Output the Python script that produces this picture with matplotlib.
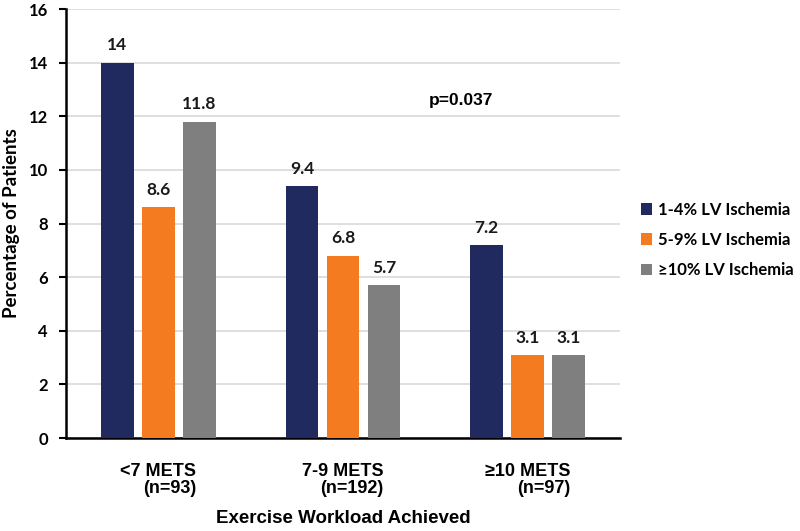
import matplotlib
matplotlib.use("Agg")
import matplotlib.pyplot as plt
import numpy as np

categories = ["<7 METS\n(n=93)", "7-9 METS\n(n=192)", "≥10 METS\n(n=97)"]
series_names = ["1-4% LV Ischemia", "5-9% LV Ischemia", "≥10% LV Ischemia"]
ischemia_1_4 = [14, 9.4, 7.2]
ischemia_5_9 = [8.6, 6.8, 3.1]
ischemia_10 = [11.8, 5.7, 3.1]
value_labels = [["14", "9.4", "7.2"], ["8.6", "6.8", "3.1"], ["11.8", "5.7", "3.1"]]
colors = ["#212A5E", "#F47B20", "#7F7F7F"]
yticks = [0, 2, 4, 6, 8, 10, 12, 14, 16]

fig = plt.figure(figsize=(8, 5.31), dpi=100)
ax = fig.add_axes([0.0825, 0.175, 0.6925, 0.808])

x = np.arange(len(categories))
width = 0.178
step = 0.222
series = [ischemia_1_4, ischemia_5_9, ischemia_10]
calib = ["Lato", "DejaVu Sans"]
for i, (vals, col, name) in enumerate(zip(series, colors, series_names)):
    pos = x + (i - 1) * step
    ax.bar(pos, vals, width, color=col, label=name, zorder=3)
    for p, v, lab in zip(pos, vals, value_labels[i]):
        ax.text(p, v + 0.35, lab, ha="center", va="bottom", fontsize=12.5,
                fontweight="bold", family=calib, color="#1a1a1a")

ax.set_xlim(-0.5, 2.5)
ax.set_ylim(0, 16)
ax.set_yticks(yticks)
ax.set_yticklabels([str(t) for t in yticks], fontsize=12, fontweight="bold", family=calib)
ax.set_xticks(x)
ax.set_xticklabels(categories, fontsize=13, fontweight="bold", family="Liberation Sans",
                   multialignment="right", linespacing=1.0)
ax.tick_params(axis="x", length=0, pad=18)
ax.tick_params(axis="y", direction="out", length=5, width=1.5, pad=8)
ax.grid(axis="y", color="#D9D9D9", linewidth=1.2, zorder=0)
for s in ["top", "right"]:
    ax.spines[s].set_visible(False)
for s in ["left", "bottom"]:
    ax.spines[s].set_linewidth(1.8)
    ax.spines[s].set_color("black")

ax.set_ylabel("Percentage of Patients", fontsize=13.5, fontweight="bold", family=calib, labelpad=6)
ax.set_xlabel("Exercise Workload Achieved", fontsize=13.5, fontweight="bold",
              family="Liberation Sans", labelpad=9)

ax.text(1.64, 12.6, "p=0.037", ha="center", va="center", fontsize=12.5, fontweight="bold",
        family="Liberation Sans")

fig.legend(loc="center left", bbox_to_anchor=(0.801, 0.548), frameon=False,
           borderaxespad=0, borderpad=0,
           prop={"family": calib, "weight": "bold", "size": 12},
           handlelength=0.7, handleheight=0.7, handletextpad=0.35, labelspacing=0.85)

fig.savefig("out.png", dpi=100)
